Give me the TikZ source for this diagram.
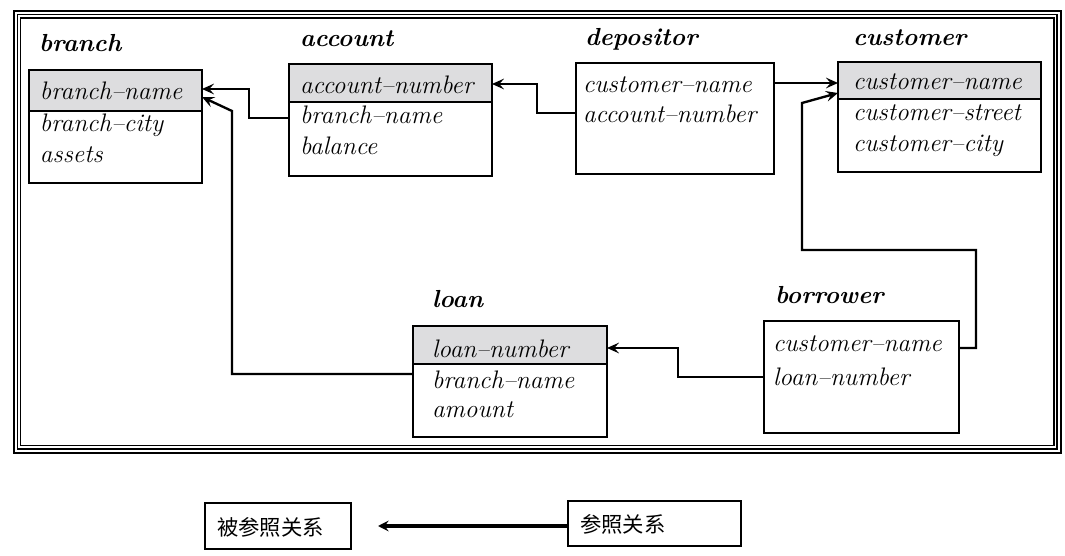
\documentclass[tikz,border=0pt]{standalone}
\usepackage{fontspec}
\newfontfamily\cjk{Noto Sans CJK SC}
\usetikzlibrary{arrows.meta,fit}
\definecolor{keyfill}{RGB}{221,221,223}
\begin{document}
\begin{tikzpicture}[x=0.75pt,y=-0.75pt,
  every node/.style={inner sep=0pt, outer sep=0pt},
  thickbox/.style={draw, line width=2pt},
  thinbox/.style={draw, line width=1.4pt},
  thickkey/.style={fill=keyfill, draw, line width=2pt},
  thinkey/.style={fill=keyfill, draw, line width=1.4pt},
  attr/.style={anchor=base west, font=\fontsize{19}{23}\selectfont\itshape},
  title/.style={anchor=base west, font=\fontsize{18.5}{22}\selectfont\bfseries\itshape},
  conn/.style={line width=1.75pt, -{Stealth[length=9pt,width=8pt,inset=3.5pt]}},
  legbox/.style={draw, line width=0.8pt},
  legtext/.style={anchor=west, font=\cjk\fontsize{16}{18}\selectfont},
  legconn/.style={line width=2.4pt, -{Stealth[length=8pt,width=8pt,inset=3pt]}},
]
\useasboundingbox (0,0) rectangle (1065,556);

% triple frame
\draw[line width=1.8pt] (13.8,11) rectangle (1061.2,452.8);
\draw[line width=1.1pt] (17.3,14.7) rectangle (1057.2,449.2);
\draw[line width=1.1pt] (20.7,17.8) rectangle (1053.8,445.5);

% branch
\node[title] (branchT) at (39,52) {branch};
\node[fit={(29,70)(202,111)}, thickkey] (branchkey) {};
\node[fit={(29,70)(202,183)}, thickbox] (branch) {};
\node[attr] (br1) at (40,100) {branch--name};
\node[attr] (br2) at (40,132) {branch--city};
\node[attr] (br3) at (40,163) {assets};

% account
\node[title] (accountT) at (300,47) {account};
\node[fit={(289,64)(492,102)}, thinkey] (accountkey) {};
\node[fit={(289,64)(492,176)}, thinbox] (account) {};
\node[attr] (ac1) at (300,94) {account--number};
\node[attr] (ac2) at (300,124) {branch--name};
\node[attr] (ac3) at (300,155) {balance};

% depositor
\node[title] (depositorT) at (585,46) {depositor};
\node[fit={(576,63)(774,174)}, thinbox] (depositor) {};
\node[attr] (de1) at (583,93) {customer--name};
\node[attr] (de2) at (583,123) {account--number};

% customer
\node[title] (customerT) at (853,46) {customer};
\node[fit={(838,62)(1041,99)}, thickkey] (customerkey) {};
\node[fit={(838,62)(1041,172)}, thickbox] (customer) {};
\node[attr] (cu1) at (853,90) {customer--name};
\node[attr] (cu2) at (853,121) {customer--street};
\node[attr] (cu3) at (853,152) {customer--city};

% loan
\node[title] (loanT) at (432,308) {loan};
\node[fit={(413,326)(607,364)}, thinkey] (loankey) {};
\node[fit={(413,326)(607,437)}, thinbox] (loan) {};
\node[attr] (lo1) at (432,358) {loan--number};
\node[attr] (lo2) at (432,388) {branch--name};
\node[attr] (lo3) at (432,417) {amount};

% borrower
\node[title] (borrowerT) at (775,304) {borrower};
\node[fit={(764,321)(959,433)}, thinbox] (borrower) {};
\node[attr] (bo1) at (773,351) {customer--name};
\node[attr] (bo2) at (773,385) {loan--number};

% connectors
\draw[conn] (account.west |- 0,118) -- (249,118) |- (branch.east |- 0,89);
\draw[conn] (loan.west |- 0,374) -| (232,111) -- (branch.east |- 0,97);
\draw[conn] (depositor.west |- 0,113) -- (537,113) |- (account.east |- 0,84);
\draw[conn] (depositor.east |- 0,83) -- (customer.west |- 0,83);
\draw[conn] (borrower.east |- 0,348) -- (976,348) |- (802,250) -- (802,103) -- (customer.west |- 0,93);
\draw[conn] (borrower.west |- 0,377) -- (678,377) |- (loan.east |- 0,348);

% legend
\node[fit={(205,503)(351,549)}, legbox] (refd) {};
\node[legtext] (refdT) at (217,527) {被参照关系};
\node[fit={(568,501)(741,546)}, legbox] (ref) {};
\node[legtext] (refT) at (580,524) {参照关系};
\coordinate (legtip) at (378,526);
\draw[legconn] (ref.west |- 0,526) -- (legtip);
\end{tikzpicture}
\end{document}
